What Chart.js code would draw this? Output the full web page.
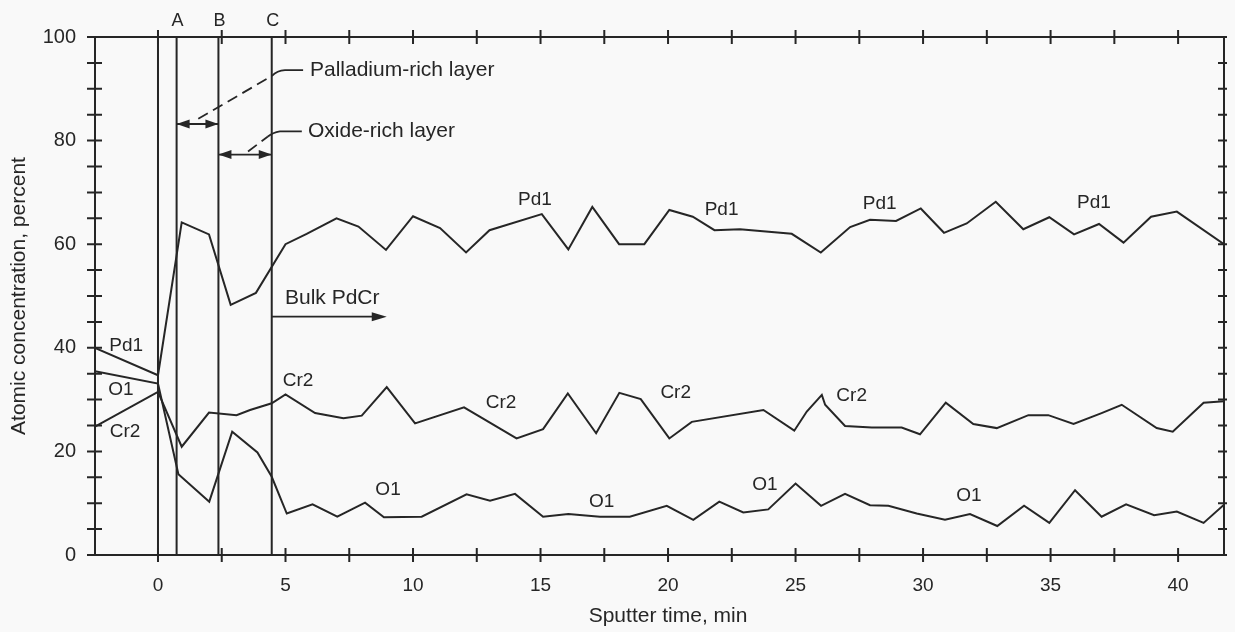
<!DOCTYPE html>
<html>
<head>
<meta charset="utf-8">
<script src="https://cdn.jsdelivr.net/npm/chart.js@4/dist/chart.umd.min.js"></script>
<style>
    html, body { margin: 0; padding: 0; background: #f9f9f9; }
    #wrap { width: 1235px; height: 632px; }
</style>
</head>
<body>
<div id="wrap"><canvas id="depthProfile" width="1235" height="632"></canvas></div>
<script>
// Sputter depth profile, PdCr sample (time in min, atomic %)
const pdTime = [-2.47, 0, 0.93, 2.0, 2.85, 3.84, 5, 5.83, 7, 7.86, 8.94, 10, 11.06, 12.08, 13, 15.05, 16.09, 17.03, 18.08, 19.07, 20.05, 20.97, 21.82, 22.82, 24.85, 25.99, 27.14, 27.92, 28.94, 29.91, 30.82, 31.71, 32.85, 33.93, 34.95, 35.92, 36.9, 37.86, 38.94, 39.95, 41.8];
const pdConc = [40, 34.7, 64.2, 61.9, 48.3, 50.6, 60, 62, 65, 63.4, 58.9, 65.4, 63.1, 58.4, 62.7, 65.8, 59, 67.2, 60, 60, 66.6, 65.3, 62.7, 62.9, 62.0, 58.4, 63.3, 64.7, 64.5, 66.9, 62.2, 64.0, 68.2, 62.9, 65.2, 61.9, 63.9, 60.3, 65.3, 66.3, 60.0];

const crTime = [-2.47, 0, 0.93, 2.0, 3.08, 3.61, 4.46, 5.0, 6.16, 7.27, 7.99, 8.97, 10.08, 12.0, 14.06, 15.1, 16.07, 17.18, 18.09, 18.93, 20.05, 20.93, 23.74, 24.95, 25.44, 26.03, 26.16, 26.94, 27.99, 29.16, 29.88, 30.89, 31.97, 32.89, 34.13, 34.91, 35.9, 37.0, 37.79, 39.16, 39.79, 41.0, 41.8];
const crConc = [24.8, 31.5, 20.9, 27.5, 27.0, 28.0, 29.3, 31.0, 27.4, 26.4, 26.9, 32.4, 25.4, 28.5, 22.5, 24.3, 31.2, 23.5, 31.3, 30.1, 22.5, 25.7, 28.0, 24.0, 27.7, 30.9, 29.0, 24.9, 24.6, 24.6, 23.3, 29.4, 25.3, 24.5, 27.0, 27.0, 25.3, 27.4, 29.0, 24.5, 23.8, 29.4, 29.7];

const oTime = [-2.47, 0, 0.8, 2.01, 2.91, 3.9, 4.46, 5.05, 6.06, 7.03, 8.12, 8.86, 10.34, 12.1, 13.02, 14.0, 15.1, 16.09, 17.33, 18.5, 19.95, 20.99, 22.01, 22.95, 23.93, 25.0, 26.0, 26.94, 27.92, 28.64, 29.75, 30.86, 31.84, 32.91, 33.96, 34.95, 35.96, 37.0, 37.96, 39.06, 39.95, 41.0, 41.8];
const oConc = [35.5, 33.1, 15.6, 10.3, 23.8, 19.8, 15.1, 8.0, 9.8, 7.4, 10.1, 7.3, 7.4, 11.7, 10.5, 11.8, 7.4, 7.9, 7.4, 7.4, 9.5, 6.8, 10.3, 8.2, 8.8, 13.8, 9.5, 11.8, 9.6, 9.5, 8.0, 6.8, 7.9, 5.6, 9.5, 6.2, 12.5, 7.4, 9.8, 7.7, 8.4, 6.2, 9.7];

// axis ticks
const xLabelTicks = [0, 5, 10, 15, 20, 25, 30, 35, 40];
const xMarkTicks = [0, 2.5, 5, 7.5, 10, 12.5, 15, 17.5, 20, 22.5, 25, 27.5, 30, 32.5, 35, 37.5, 40];
const yLabelTicks = [0, 20, 40, 60, 80, 100];
const yMarkTicks = [0, 5, 10, 15, 20, 25, 30, 35, 40, 45, 50, 55, 60, 65, 70, 75, 80, 85, 90, 95, 100];

// layer boundaries
const boundaryNames = ['A', 'B', 'C'];
const boundaryTimes = [0.73, 2.37, 4.46];

// curve names written next to the lines
const curveLabelText = ['Pd1', 'O1', 'Cr2', 'Cr2', 'O1', 'Pd1', 'Cr2', 'O1', 'Pd1', 'Cr2', 'O1', 'Pd1', 'Cr2', 'O1', 'Pd1'];
const curveLabelTime = [-1.25, -1.45, -1.29, 5.49, 9.02, 14.78, 13.45, 17.4, 22.1, 20.3, 23.8, 28.3, 27.2, 31.8, 36.7];
const curveLabelConc = [40.3, 31.9, 23.7, 33.6, 12.5, 68.5, 29.3, 10.2, 66.6, 31.3, 13.5, 67.8, 30.7, 11.4, 68.0];

// layer annotations: [time, conc]
const palladiumSpan = { from: 0.73, to: 2.37, conc: 83.2 };
const palladiumLeader = [[1.58, 84.2], [4.47, 92.5]];
const palladiumHook = [[4.47, 92.5], [4.67, 93.5], [4.98, 93.6], [5.69, 93.6]];
const palladiumText = { text: 'Palladium-rich layer', time: 5.96, conc: 93.6 };

const oxideSpan = { from: 2.37, to: 4.46, conc: 77.3 };
const oxideLeader = [[3.53, 77.9], [4.31, 80.8]];
const oxideHook = [[4.31, 80.8], [4.5, 81.6], [4.78, 81.8], [5.64, 81.8]];
const oxideText = { text: 'Oxide-rich layer', time: 5.88, conc: 81.8 };

const bulkArrow = { from: 4.46, to: 8.97, conc: 46.0 };
const bulkText = { text: 'Bulk PdCr', time: 4.98, conc: 49.5 };

const ink = '#262626';
const fontFamily = "'Liberation Sans', Arial, sans-serif";

function toPoints(times, values)
{
    return times.map((t, i) => ({ x: t, y: values[i] }));
}

function arrowHead(c, x, y, dir, len, half)
{
    c.beginPath();
    c.moveTo(x, y);
    c.lineTo(x - dir * len, y - half);
    c.lineTo(x - dir * len, y + half);
    c.closePath();
    c.fill();
}

function doubleArrow(c, xs, ys, span)
{
    const x1 = xs.getPixelForValue(span.from);
    const x2 = xs.getPixelForValue(span.to);
    const y = ys.getPixelForValue(span.conc);
    c.beginPath();
    c.moveTo(x1, y);
    c.lineTo(x2, y);
    c.stroke();
    arrowHead(c, x1, y, -1, 13, 4.5);
    arrowHead(c, x2, y, 1, 13, 4.5);
}

function leader(c, xs, ys, dashed, hook)
{
    c.save();
    c.setLineDash([11, 6]);
    c.beginPath();
    c.moveTo(xs.getPixelForValue(dashed[0][0]), ys.getPixelForValue(dashed[0][1]));
    c.lineTo(xs.getPixelForValue(dashed[1][0]), ys.getPixelForValue(dashed[1][1]));
    c.stroke();
    c.restore();

    const p = hook.map(h => [xs.getPixelForValue(h[0]), ys.getPixelForValue(h[1])]);
    c.beginPath();
    c.moveTo(p[0][0], p[0][1]);
    c.quadraticCurveTo(p[1][0], p[1][1], p[2][0], p[2][1]);
    c.lineTo(p[3][0], p[3][1]);
    c.stroke();
}

// frame, crossing tick marks, layer boundaries and all the written notes
const profileDecor = {
    id: 'profileDecor',
    beforeDraw(chart)
    {
        const c = chart.ctx;
        c.save();
        c.fillStyle = '#f9f9f9';
        c.fillRect(0, 0, chart.width, chart.height);
        c.restore();
    },
    afterDraw(chart)
    {
        const c = chart.ctx;
        const a = chart.chartArea;
        const xs = chart.scales.x;
        const ys = chart.scales.y;

        c.save();
        c.strokeStyle = ink;
        c.fillStyle = ink;
        c.lineWidth = 2;
        c.strokeRect(a.left, a.top, a.right - a.left, a.bottom - a.top);

        c.beginPath();
        xMarkTicks.forEach(t =>
        {
            const p = xs.getPixelForValue(t);
            c.moveTo(p, a.bottom - 7);
            c.lineTo(p, a.bottom + 7);
            c.moveTo(p, a.top - 7);
            c.lineTo(p, a.top + 7);
        });
        yMarkTicks.forEach(v =>
        {
            const p = ys.getPixelForValue(v);
            c.moveTo(a.left - 8, p);
            c.lineTo(a.left + 7, p);
            c.moveTo(a.right - 6, p);
            c.lineTo(a.right + 3, p);
        });
        c.stroke();

        // start of sputtering and layer boundaries
        c.beginPath();
        [0].concat(boundaryTimes).forEach(t =>
        {
            const p = xs.getPixelForValue(t);
            c.moveTo(p, a.top);
            c.lineTo(p, a.bottom);
        });
        c.stroke();

        c.font = '18px ' + fontFamily;
        c.textAlign = 'center';
        c.textBaseline = 'middle';
        boundaryNames.forEach((n, i) =>
        {
            c.fillText(n, xs.getPixelForValue(boundaryTimes[i]) + 1, a.top - 16);
        });

        // layer arrows
        c.lineWidth = 1.8;
        doubleArrow(c, xs, ys, palladiumSpan);
        doubleArrow(c, xs, ys, oxideSpan);
        leader(c, xs, ys, palladiumLeader, palladiumHook);
        leader(c, xs, ys, oxideLeader, oxideHook);

        const bx1 = xs.getPixelForValue(bulkArrow.from);
        const bx2 = xs.getPixelForValue(bulkArrow.to);
        const by = ys.getPixelForValue(bulkArrow.conc);
        c.beginPath();
        c.moveTo(bx1, by);
        c.lineTo(bx2 - 6, by);
        c.stroke();
        arrowHead(c, bx2, by, 1, 15, 4.5);

        c.font = '21px ' + fontFamily;
        c.textAlign = 'left';
        [palladiumText, oxideText, bulkText].forEach(n =>
        {
            c.fillText(n.text, xs.getPixelForValue(n.time), ys.getPixelForValue(n.conc));
        });

        c.font = '19px ' + fontFamily;
        c.textAlign = 'center';
        curveLabelText.forEach((s, i) =>
        {
            c.fillText(s, xs.getPixelForValue(curveLabelTime[i]), ys.getPixelForValue(curveLabelConc[i]));
        });

        c.font = '21px ' + fontFamily;
        c.fillText('Sputter time, min', xs.getPixelForValue(20), 616);

        c.restore();
    }
};

function lineSet(name, times, values)
{
    return {
        label: name,
        data: toPoints(times, values),
        borderColor: ink,
        borderWidth: 2,
        pointRadius: 0,
        tension: 0,
        fill: false,
    };
}

document.addEventListener('DOMContentLoaded', function ()
{
    const ctx = document.getElementById('depthProfile').getContext('2d');

    new Chart(ctx, {
        type: 'line',
        data: {
            datasets: [
                lineSet('Pd1', pdTime, pdConc),
                lineSet('Cr2', crTime, crConc),
                lineSet('O1', oTime, oConc),
            ],
        },
        options: {
            responsive: false,
            animation: false,
            layout: { padding: { top: 37, right: 11, left: 0, bottom: 0 } },
            plugins: {
                legend: { display: false },
                tooltip: { enabled: false },
            },
            scales: {
                x: {
                    type: 'linear',
                    min: -2.47,
                    max: 41.8,
                    grid: { display: false, drawTicks: false },
                    border: { display: false },
                    ticks: {
                        color: ink,
                        padding: 19,
                        maxRotation: 0,
                        font: { family: fontFamily, size: 19 },
                    },
                    afterBuildTicks: s => { s.ticks = xLabelTicks.map(v => ({ value: v })); },
                    afterFit: s => { s.height = 77; },
                },
                y: {
                    min: 0,
                    max: 100,
                    grid: { display: false, drawTicks: false },
                    border: { display: false },
                    ticks: {
                        color: ink,
                        padding: 19,
                        font: { family: fontFamily, size: 20 },
                    },
                    title: {
                        display: true,
                        text: 'Atomic concentration, percent',
                        color: ink,
                        padding: { top: 7, bottom: 4 },
                        font: { family: fontFamily, size: 21 },
                    },
                    afterBuildTicks: s => { s.ticks = yLabelTicks.map(v => ({ value: v })); },
                    afterFit: s => { s.width = 95; },
                },
            },
        },
        plugins: [profileDecor],
    });
});
</script>
</body>
</html>
